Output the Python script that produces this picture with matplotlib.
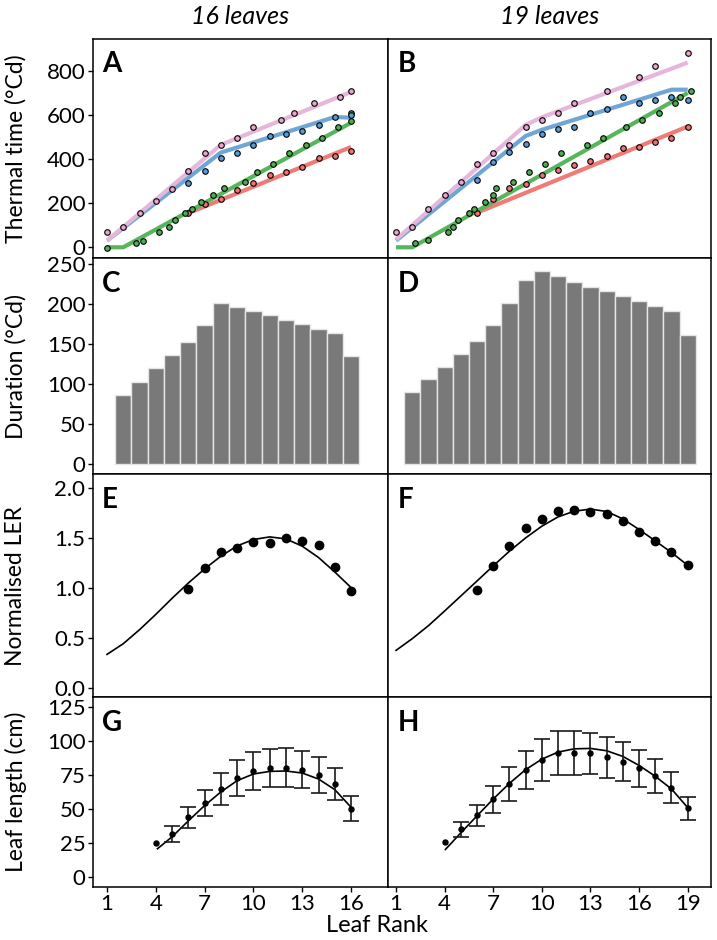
import matplotlib
matplotlib.use("Agg")
import matplotlib.pyplot as plt
import numpy as np

plt.rcParams['font.family'] = ['Lato', 'DejaVu Sans']

# ---------------- Panel A/B: thermal time (°Cd) ----------------
# 16 leaves
pinkA_line_x = [1, 8, 16]
pinkA_line_y = [30, 465, 705]
blueA_line_x = [1, 8, 15, 16]
blueA_line_y = [30, 430, 591, 588]
greenA_line_x = [1, 2, 16]
greenA_line_y = [0, 0, 565]
redA_line_x = [6, 16]
redA_line_y = [155, 455]

pinkA_x = [1, 2, 3, 4, 5, 6, 7, 8, 9, 10, 11.7, 12.5, 13.7, 15.3, 16]
pinkA_y = [68, 94, 156, 209, 266, 344, 427, 465, 497, 545, 577, 607, 656, 682, 709]
blueA_x = [6, 7, 8, 9, 10, 11, 12, 13, 14, 15, 16]
blueA_y = [291, 344, 404, 430, 465, 506, 515, 527, 557, 591, 600]
greenA_x = [1, 2.8, 3.2, 4.2, 4.8, 5.2, 5.8, 6.2, 6.8, 7.5, 8.2, 9.5, 10.2, 11.2,
            12.2, 13.2, 14.2, 15.2, 16, 16]
greenA_y = [-4, 18, 30, 70, 94, 126, 155, 174, 207, 235, 267, 297, 342, 377,
            427, 463, 497, 544, 575, 609]
redA_x = [6, 7, 8, 9, 10, 11, 12, 13, 14, 15, 16]
redA_y = [155, 197, 221, 260, 291, 329, 342, 365, 403, 415, 435]

# 19 leaves
pinkB_line_x = [1, 9, 10, 19]
pinkB_line_y = [35, 555, 590, 838]
blueB_line_x = [1, 9, 10, 18, 19]
blueB_line_y = [30, 505, 533, 715, 715]
greenB_line_x = [1, 2, 19]
greenB_line_y = [0, 0, 700]
redB_line_x = [6, 19]
redB_line_y = [157, 548]

pinkB_x = [1, 2, 3, 4, 5, 6, 7, 8, 9, 10, 11, 12, 14, 16, 17, 19]
pinkB_y = [68, 94, 174, 235, 297, 377, 427, 465, 545, 577, 607, 656, 709, 771, 823, 882]
blueB_x = [6, 7, 8, 9, 10, 11, 12, 13, 14, 15, 16, 17, 18, 19]
blueB_y = [307, 385, 432, 468, 514, 536, 544, 609, 629, 682, 653, 668, 680, 668]
greenB_x = [2.17, 3.0, 4.19, 4.5, 4.8, 5.5, 5.8, 6.5, 7.0, 7.2, 8.2, 9.2, 10.2, 11.2,
            12.8, 13.8, 15.2, 16.2, 17.2, 18.2, 18.5, 19.2]
greenB_y = [18, 33, 70, 94, 126, 156, 174, 206, 236, 267, 297, 342, 377, 427,
            465, 497, 545, 577, 607, 656, 680, 710]
redB_x = [6, 7, 8, 9, 10, 11, 12, 13, 14, 15, 16, 17, 18, 19]
redB_y = [157, 218, 267, 285, 330, 351, 373, 392, 415, 450, 456, 479, 498, 545]

# ---------------- Panel C/D: duration (°Cd) ----------------
durC_leaf = list(range(2, 17))
durC = [86, 103, 120, 136, 153, 174, 202, 197, 192, 186, 180, 175, 169, 164, 135]
durD_leaf = list(range(2, 20))
durD = [90, 106, 122, 138, 154, 174, 202, 230, 241, 235, 228, 222, 216, 210, 204,
        198, 192, 162]

# ---------------- Panel E/F: normalised LER ----------------
lerE_x = list(range(6, 17))
lerE_y = [0.99, 1.20, 1.355, 1.395, 1.46, 1.45, 1.50, 1.47, 1.425, 1.21, 0.965]
lerE_fit_x = list(range(1, 17))
lerE_fit_y = [0.336, 0.443, 0.583, 0.736, 0.897, 1.050, 1.191, 1.318, 1.421, 1.485,
              1.511, 1.491, 1.418, 1.305, 1.160, 1.004]
lerF_x = list(range(6, 20))
lerF_y = [0.984, 1.221, 1.421, 1.595, 1.688, 1.766, 1.776, 1.762, 1.741, 1.668,
          1.558, 1.465, 1.358, 1.231]
lerF_fit_x = list(range(1, 20))
lerF_fit_y = [0.376, 0.493, 0.623, 0.770, 0.920, 1.070, 1.221, 1.368, 1.501, 1.618,
              1.711, 1.768, 1.789, 1.765, 1.691, 1.585, 1.471, 1.355, 1.227]

# ---------------- Panel G/H: leaf length (cm) ----------------
lenG_x = list(range(4, 17))
lenG_y = [24.9, 31.7, 44.0, 54.7, 65.0, 72.8, 78.2, 80.4, 80.6, 79.2, 75.2, 68.4, 50.6]
lenG_err = [0, 5.8, 7.5, 9.8, 11.7, 13.2, 14.0, 14.3, 14.3, 13.8, 13.3, 11.9, 9.0]
lenG_fit_x = [4.1, 5, 6, 7, 8, 9, 10, 11, 12, 13, 14, 15, 16]
lenG_fit_y = [21.0, 29.8, 41.5, 52.8, 62.8, 71.1, 76.0, 77.9, 78.2, 76.7, 72.3, 64.5, 51.5]

lenH_x = list(range(4, 20))
lenH_y = [26.1, 35.2, 45.5, 57.4, 68.6, 78.7, 86.5, 91.6, 91.6, 91.1, 88.4, 85.0,
          80.1, 74.5, 66.0, 50.8]
lenH_err = [0, 5.5, 7.7, 10.0, 12.5, 14.0, 15.4, 16.0, 16.2, 15.4, 15.0, 14.3,
            13.7, 12.6, 11.4, 8.5]
lenH_fit_x = [4.05, 5, 6, 7, 8, 9, 10, 11, 12, 13, 14, 15, 16, 17, 18, 19]
lenH_fit_y = [20.5, 32.7, 45.2, 57.6, 69.1, 79.2, 86.9, 92.1, 94.5, 94.8, 93.1,
              88.9, 82.3, 74.3, 65.0, 51.3]

col_titles = ["16 leaves", "19 leaves"]
row_ylabels = ["Thermal time (°Cd)", "Duration (°Cd)", "Normalised LER", "Leaf length (cm)"]
letters = [["A", "B"], ["C", "D"], ["E", "F"], ["G", "H"]]
xticks_left = [1, 4, 7, 10, 13, 16]
xticks_right = [1, 4, 7, 10, 13, 16, 19]

# colours
PINK_L, PINK_M = '#e4b7db', '#eda5cf'
BLUE_L, BLUE_M = '#6fa6d6', '#5b9bd3'
GREEN_L, GREEN_M = '#57b55c', '#4fae52'
RED_L, RED_M = '#ef7b77', '#f17271'

W, H = 717, 940
fig = plt.figure(figsize=(W / 100, H / 100), dpi=100)

col_px = [(93, 388), (388, 711)]
row_px = [(39, 258), (258, 474.3), (474.3, 697.3), (697.3, 886.7)]
xlims = [(0.14, 18.27), (0.506, 20.44)]
ylims = [(-48.6, 945), (-13, 257.9), (-0.093, 2.137), (-6.9, 132.4)]
yticks = [[0, 200, 400, 600, 800], [0, 50, 100, 150, 200, 250],
          [0.0, 0.5, 1.0, 1.5, 2.0], [0, 25, 50, 75, 100, 125]]

axes = [[None, None] for _ in range(4)]
for r, (t, b) in enumerate(row_px):
    for c, (l, rr) in enumerate(col_px):
        ax = fig.add_axes([l / W, 1 - b / H, (rr - l) / W, (b - t) / H])
        axes[r][c] = ax
        ax.set_xlim(*xlims[c])
        ax.set_ylim(*ylims[r])
        ax.set_xticks(xticks_left if c == 0 else xticks_right)
        for s in ax.spines.values():
            s.set_linewidth(1.1)
        ax.tick_params(axis='both', direction='out', length=3.5, width=1.0,
                       labelsize=16, pad=2)
        if r < 3:
            ax.tick_params(axis='x', labelbottom=False)
        if c == 0:
            ax.set_yticks(yticks[r])
            if r == 2:
                ax.set_yticklabels([f"{v:.1f}" for v in yticks[r]])
        else:
            ax.set_yticks([])
        ax.text(0.03, 1 - 12.5 / (b - t), letters[r][c], transform=ax.transAxes,
                ha='left', va='top', fontsize=20, fontweight='bold')

# thermal time panels
def thermal(ax, lines, pts):
    for (lx, ly, col) in lines:
        ax.plot(lx, ly, color=col, lw=3.0, solid_capstyle='butt', zorder=2)
    for (px, py, col) in pts:
        ax.plot(px, py, 'o', ms=4.0, mfc=col, mec='black', mew=0.8, ls='none', zorder=3)

thermal(axes[0][0],
        [(redA_line_x, redA_line_y, RED_L), (greenA_line_x, greenA_line_y, GREEN_L),
         (blueA_line_x, blueA_line_y, BLUE_L), (pinkA_line_x, pinkA_line_y, PINK_L)],
        [(redA_x, redA_y, RED_M), (greenA_x, greenA_y, GREEN_M),
         (blueA_x, blueA_y, BLUE_M), (pinkA_x, pinkA_y, PINK_M)])
thermal(axes[0][1],
        [(redB_line_x, redB_line_y, RED_L), (greenB_line_x, greenB_line_y, GREEN_L),
         (blueB_line_x, blueB_line_y, BLUE_L), (pinkB_line_x, pinkB_line_y, PINK_L)],
        [(redB_x, redB_y, RED_M), (greenB_x, greenB_y, GREEN_M),
         (blueB_x, blueB_y, BLUE_M), (pinkB_x, pinkB_y, PINK_M)])

# duration bars
for ax, lx, dv in [(axes[1][0], durC_leaf, durC), (axes[1][1], durD_leaf, durD)]:
    ax.bar(lx, dv, width=1.0, color='#797979', edgecolor='#e6e6e6', linewidth=1.0, zorder=2)

# LER
for ax, fx, fy, px, py in [(axes[2][0], lerE_fit_x, lerE_fit_y, lerE_x, lerE_y),
                           (axes[2][1], lerF_fit_x, lerF_fit_y, lerF_x, lerF_y)]:
    ax.plot(fx, fy, color='black', lw=1.2, zorder=2)
    ax.plot(px, py, 'o', color='black', ms=6.0, ls='none', zorder=3)

# Leaf length
for ax, fx, fy, px, py, pe in [(axes[3][0], lenG_fit_x, lenG_fit_y, lenG_x, lenG_y, lenG_err),
                               (axes[3][1], lenH_fit_x, lenH_fit_y, lenH_x, lenH_y, lenH_err)]:
    ax.plot(fx, fy, color='black', lw=1.2, zorder=2)
    px = np.asarray(px, float)
    py = np.asarray(py, float)
    pe = np.asarray(pe, float)
    has = pe > 0
    ax.errorbar(px[has], py[has], yerr=pe[has], fmt='o', color='black', ms=3.6,
                ecolor='#1a1a1a', elinewidth=1.2, capsize=5.5, capthick=1.2, zorder=3)
    ax.plot(px[~has], py[~has], 'o', color='black', ms=3.6, ls='none', zorder=3)

# column titles
for c, (l, rr) in enumerate(col_px):
    fig.text((l + rr) / 2 / W, 1 - 16 / H, col_titles[c], ha='center', va='center',
             fontsize=18, style='italic')

# row y labels
for r, (t, b) in enumerate(row_px):
    fig.text(16 / W, 1 - (t + b) / 2 / H, row_ylabels[r], rotation=90,
             ha='center', va='center', fontsize=16.5)

fig.text(377 / W, 1 - 926 / H, "Leaf Rank", ha='center', va='center', fontsize=17)

fig.savefig("out.png", dpi=100)
